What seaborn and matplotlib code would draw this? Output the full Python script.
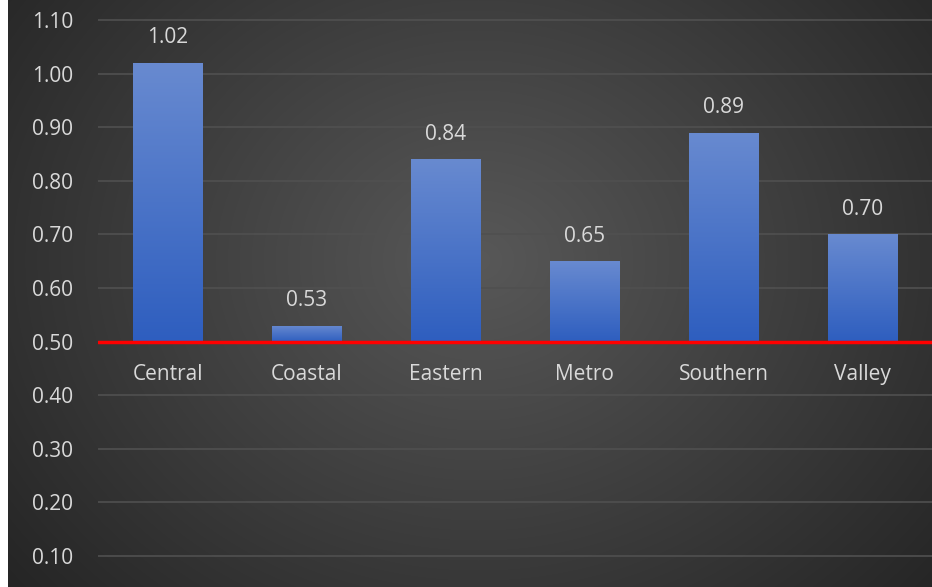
import numpy as np
import pandas as pd
import matplotlib
matplotlib.use("Agg")
import matplotlib.pyplot as plt
import seaborn as sns

categories = ["Central", "Coastal", "Eastern", "Metro", "Southern", "Valley"]
values = [1.02, 0.53, 0.84, 0.65, 0.89, 0.70]
baseline = 0.50
yticks = [0.10, 0.20, 0.30, 0.40, 0.50, 0.60, 0.70, 0.80, 0.90, 1.00, 1.10]

sns.set_theme(style="dark")
plt.rcParams['font.family'] = ['Open Sans', 'DejaVu Sans']
txt = "#d9d9d9"
fs = 15

fig = plt.figure(figsize=(9.32, 5.87), dpi=100)
fig.patch.set_facecolor("white")

# background radial gradient
bg = fig.add_axes([8/932, 0, 924/932, 1])
bg.set_axis_off()
yy, xx = np.mgrid[0:587, 0:924]
cx, cy = 470, 260
r = np.sqrt(((xx - cx) / 620.0) ** 2 + ((yy - cy) / 520.0) ** 2)
r = np.clip(r, 0, 1)
c0 = np.array([0x58, 0x58, 0x58]) / 255
c1 = np.array([0x24, 0x24, 0x24]) / 255
img = c0[None, None, :] * (1 - r[..., None]) + c1[None, None, :] * r[..., None]
bg.imshow(img, aspect="auto", extent=[0, 1, 0, 1], origin="upper")
bg.set_xlim(0, 1); bg.set_ylim(0, 1)

ax = fig.add_axes([98/932, 0, 834/932, 1])
ax.patch.set_alpha(0)
df = pd.DataFrame({"cat": categories, "val": values})
df["h"] = df["val"] - baseline
sns.barplot(data=df, x="cat", y="h", ax=ax, width=0.5, bottom=baseline,
            color="#4472c4", saturation=1, zorder=3)

# gradient fill on bars
grad = np.linspace(0, 1, 256)[:, None]
top = np.array([0x68, 0x8a, 0xd0]) / 255
bot = np.array([0x2e, 0x5e, 0xbf]) / 255
gimg = top[None, None, :] * (1 - grad[..., None]) + bot[None, None, :] * grad[..., None]
bars = list(ax.patches)
for i, p in enumerate(bars):
    x0, y0 = p.get_x(), p.get_y()
    w, h = p.get_width(), p.get_height()
    p.set_facecolor("none")
    p.set_edgecolor("none")
    im = ax.imshow(np.repeat(gimg, 2, axis=1), extent=[x0, x0 + w, y0, y0 + h],
                   aspect="auto", origin="upper", zorder=3)
    im.set_clip_path(p)
    ax.annotate(f"{values[i]:.2f}", (x0 + w/2, y0 + h),
                xytext=(0, 18), textcoords="offset points", ha="center", va="center",
                color=txt, fontsize=fs)

ax.set_xlim(-0.5, 5.5)
ylo = 0.10 - 31/536
yhi = 1.10 + 20/536
ax.set_ylim(ylo, yhi)

ax.set_yticks(yticks)
ax.set_yticklabels([f"{t:.2f}" for t in yticks])
ax.tick_params(axis="y", colors=txt, labelsize=fs, length=0, pad=18)
ax.set_xticks([])
ax.set_xlabel(""); ax.set_ylabel("")
ax.grid(axis="y", color="#505050", linewidth=1.2, zorder=1)
ax.grid(axis="x", visible=False)
for s in ax.spines.values():
    s.set_visible(False)

ax.axhline(baseline, color="#ff0000", linewidth=2.5, zorder=4)
for i, c in enumerate(categories):
    ax.annotate(c, (i, baseline), xytext=(0, -24), textcoords="offset points",
                ha="center", va="center", color=txt, fontsize=fs)

fig.savefig("out.png", dpi=100)
